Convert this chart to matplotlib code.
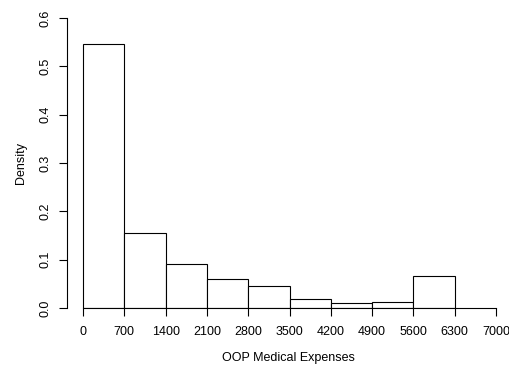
import numpy as np
import matplotlib.pyplot as plt

edges = [0, 700, 1400, 2100, 2800, 3500, 4200, 4900, 5600, 6300]
density = [0.547, 0.156, 0.091, 0.059, 0.045, 0.019, 0.010, 0.012, 0.066]
xticks = [0, 700, 1400, 2100, 2800, 3500, 4200, 4900, 5600, 6300, 7000]
yticks = [0.0, 0.1, 0.2, 0.3, 0.4, 0.5, 0.6]

plt.rcParams['font.family'] = ['Liberation Sans', 'DejaVu Sans']

fig = plt.figure(figsize=(5.1, 3.71), dpi=100)
W, H = 510, 371
ax = fig.add_axes([67 / W, 63 / H, 443 / W, 290 / H])

ax.bar(edges[:-1], density, width=np.diff(edges), align='edge', facecolor='white',
       edgecolor='black', linewidth=0.8)

ax.set_xlim(-271, 7237)
ax.set_ylim(0, 0.6)

for s in ['top', 'right']:
    ax.spines[s].set_visible(False)
ax.spines['left'].set_bounds(0, 0.6)
ax.spines['bottom'].set_bounds(0, 7000)
for s in ['left', 'bottom']:
    ax.spines[s].set_linewidth(0.8)

ax.set_xticks(xticks)
ax.set_xticklabels([str(t) for t in xticks])
ax.set_yticks(yticks)
ax.set_yticklabels(['%.1f' % t for t in yticks], rotation=90, va='center')
ax.tick_params(length=6, width=0.8, labelsize=9)
ax.tick_params(axis='x', pad=7)
ax.tick_params(axis='y', pad=5)

ax.set_xlabel('OOP Medical Expenses', fontsize=9, labelpad=10)
ax.set_ylabel('Density', fontsize=9, labelpad=9)

plt.savefig('out.png', dpi=100)
